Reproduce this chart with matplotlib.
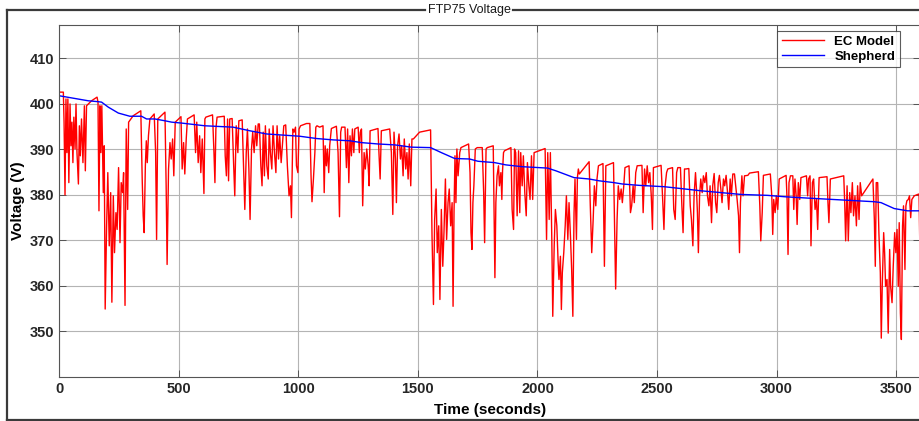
import matplotlib
matplotlib.use("Agg")
import matplotlib.pyplot as plt
from matplotlib.lines import Line2D

plt.rcParams['font.family'] = ['Liberation Sans', 'DejaVu Sans']

# EC model terminal voltage over the FTP75 cycle
ec_time = [0, 17, 20, 24, 28, 32, 36, 40, 45, 49, 53, 57, 61, 66, 70, 74, 80, 84, 88, 93,
           99, 105, 109, 114, 135, 158, 162, 166, 170, 174, 178, 184, 188, 192, 198, 203, 209,
           215, 220, 226, 231, 237, 242, 248, 254, 259, 265, 269, 275, 280, 286, 290, 309, 341,
           347, 351, 355, 360, 364, 368, 373, 379, 397, 403, 407, 412, 442, 447, 451, 457, 463,
           468, 474, 479, 485, 509, 514, 520, 525, 531, 536, 564, 570, 575, 581, 587, 592, 598,
           605, 609, 613, 641, 647, 651, 655, 660, 690, 694, 699, 704, 708, 713, 723, 729, 734,
           740, 747, 751, 765, 770, 776, 782, 787, 793, 798, 804, 809, 815, 821, 826, 832, 837,
           843, 848, 853, 858, 862, 868, 874, 878, 883, 889, 894, 900, 906, 911, 917, 922, 928,
           933, 939, 947, 954, 961, 967, 971, 977, 982, 988, 992, 998, 1003, 1009, 1034, 1048,
           1053, 1057, 1063, 1069, 1073, 1078, 1089, 1103, 1108, 1112, 1117, 1121, 1127, 1131,
           1138, 1159, 1166, 1172, 1177, 1181, 1195, 1201, 1206, 1211, 1216, 1222, 1226, 1232,
           1236, 1250, 1255, 1259, 1264, 1269, 1275, 1280, 1286, 1292, 1296, 1300, 1333, 1337,
           1342, 1347, 1382, 1389, 1395, 1400, 1406, 1410, 1415, 1421, 1427, 1432, 1438, 1443,
           1449, 1454, 1459, 1464, 1470, 1475, 1481, 1507, 1553, 1559, 1565, 1570, 1576, 1581,
           1587, 1592, 1598, 1604, 1609, 1615, 1620, 1626, 1631, 1637, 1643, 1647, 1651, 1655,
           1659, 1663, 1668, 1675, 1680, 1712, 1718, 1722, 1726, 1730, 1734, 1740, 1748, 1769,
           1775, 1779, 1785, 1790, 1815, 1819, 1822, 1826, 1831, 1837, 1841, 1847, 1851, 1854,
           1858, 1862, 1889, 1894, 1900, 1904, 1909, 1915, 1921, 1926, 1930, 1936, 1941, 1947,
           1953, 1958, 1964, 1969, 1975, 1980, 1986, 2032, 2038, 2043, 2049, 2054, 2060, 2064,
           2070, 2075, 2081, 2086, 2090, 2096, 2100, 2104, 2110, 2116, 2121, 2127, 2132, 2138,
           2143, 2148, 2153, 2157, 2163, 2167, 2171, 2175, 2216, 2221, 2227, 2233, 2238, 2244,
           2249, 2255, 2274, 2280, 2286, 2318, 2323, 2327, 2333, 2338, 2344, 2350, 2355, 2361,
           2366, 2383, 2389, 2394, 2400, 2405, 2411, 2417, 2437, 2442, 2448, 2453, 2459, 2465,
           2470, 2476, 2481, 2485, 2517, 2523, 2529, 2534, 2540, 2545, 2565, 2570, 2576, 2582,
           2587, 2598, 2604, 2609, 2615, 2621, 2633, 2639, 2644, 2650, 2655, 2661, 2665, 2669,
           2673, 2678, 2683, 2689, 2694, 2700, 2706, 2711, 2717, 2722, 2728, 2733, 2739, 2745,
           2750, 2756, 2761, 2767, 2772, 2778, 2783, 2789, 2795, 2800, 2806, 2811, 2817, 2824,
           2829, 2835, 2841, 2845, 2849, 2855, 2860, 2866, 2880, 2887, 2924, 2930, 2934, 2940,
           2945, 2974, 2980, 2984, 2988, 2994, 2999, 3005, 3011, 3040, 3044, 3048, 3052, 3058,
           3068, 3072, 3077, 3082, 3086, 3091, 3097, 3102, 3125, 3130, 3134, 3140, 3144, 3150,
           3155, 3161, 3167, 3172, 3178, 3211, 3215, 3219, 3225, 3281, 3285, 3289, 3295, 3300,
           3306, 3311, 3317, 3322, 3328, 3334, 3339, 3345, 3350, 3356, 3403, 3409, 3413, 3417,
           3423, 3428, 3434, 3438, 3442, 3448, 3452, 3456, 3462, 3467, 3473, 3477, 3483, 3488,
           3494, 3499, 3504, 3509, 3513, 3518, 3522, 3527, 3531, 3537, 3541, 3545, 3551, 3556,
           3561, 3566, 3576, 3590, 3596, 3600]
ec_volt = [402.6, 402.6, 396.0, 380.0, 401.1, 389.3, 401.1, 382.7, 400.0, 390.8, 396.0, 387.1,
           397.1, 390.1, 400.0, 389.3, 382.4, 395.2, 388.6, 396.7, 387.1, 399.6, 385.3, 399.6,
           400.7, 401.5, 400.4, 376.5, 399.6, 389.3, 399.6, 380.5, 390.8, 354.9, 373.2, 384.9,
           368.8, 380.5, 356.4, 379.8, 367.3, 376.1, 372.4, 386.0, 369.5, 382.7, 380.5, 384.9,
           355.7, 394.5, 376.8, 396.0, 397.4, 398.5, 383.1, 375.4, 371.7, 386.4, 391.9, 387.1,
           393.0, 396.7, 397.8, 389.3, 370.2, 396.7, 398.2, 382.0, 364.7, 385.7, 391.5, 387.9,
           392.3, 384.2, 396.0, 397.2, 385.7, 391.5, 384.6, 392.3, 396.7, 397.6, 389.3, 396.0,
           387.1, 393.0, 384.9, 392.3, 380.3, 396.7, 397.1, 397.6, 389.3, 382.7, 394.5, 397.1,
           397.3, 388.6, 384.2, 396.7, 383.1, 396.7, 396.8, 387.1, 379.8, 395.2, 389.3, 396.3,
           396.5, 387.5, 376.8, 389.3, 394.5, 385.7, 374.6, 390.1, 393.8, 389.3, 395.2, 390.8,
           395.6, 395.6, 386.4, 382.0, 393.8, 384.2, 395.2, 386.4, 383.5, 394.5, 389.3, 385.7,
           395.2, 389.3, 384.9, 395.2, 387.9, 393.0, 387.1, 390.8, 395.2, 395.4, 386.4, 379.8,
           382.0, 375.0, 394.5, 393.8, 394.9, 386.4, 384.9, 394.5, 395.2, 395.7, 395.7, 384.2,
           378.5, 383.5, 389.3, 394.9, 395.2, 394.9, 395.2, 380.5, 390.8, 386.4, 390.1, 384.9,
           390.8, 394.6, 395.1, 389.3, 375.2, 393.8, 394.9, 394.9, 386.0, 394.5, 382.7, 393.0,
           388.6, 394.5, 389.3, 394.5, 394.9, 389.3, 393.8, 394.5, 377.6, 389.3, 385.7, 390.1,
           386.4, 382.0, 394.1, 394.6, 389.3, 383.5, 394.1, 394.5, 389.3, 375.7, 393.8, 387.9,
           378.3, 390.8, 393.4, 387.9, 390.8, 384.2, 392.3, 385.7, 389.3, 383.5, 391.2, 382.0,
           392.3, 392.3, 393.8, 394.3, 371.0, 355.9, 374.6, 381.3, 367.3, 373.2, 357.0, 376.8,
           364.3, 371.7, 383.5, 370.2, 378.3, 381.3, 373.2, 378.3, 355.5, 376.1, 388.6, 378.3,
           390.1, 384.2, 389.3, 390.4, 391.2, 384.9, 371.7, 368.0, 378.3, 382.0, 390.1, 390.4,
           390.4, 380.5, 369.5, 390.1, 390.4, 390.8, 373.2, 361.8, 378.3, 384.2, 386.4, 382.0,
           384.9, 379.0, 385.3, 389.3, 389.7, 390.4, 376.8, 372.4, 390.1, 389.3, 375.4, 389.7,
           376.1, 389.3, 382.0, 388.6, 380.5, 375.4, 387.1, 382.0, 379.0, 388.6, 379.0, 389.3,
           390.2, 370.2, 389.3, 374.6, 389.3, 370.2, 353.3, 368.8, 376.8, 373.2, 365.8, 361.4,
           366.5, 354.8, 362.9, 367.3, 373.2, 379.8, 370.2, 378.3, 370.9, 363.6, 353.3, 376.1,
           383.5, 370.2, 383.8, 385.7, 384.6, 387.3, 377.6, 367.3, 374.6, 382.0, 377.6, 383.5,
           386.4, 386.9, 364.3, 386.4, 387.1, 370.9, 359.3, 374.6, 382.0, 379.0, 381.3, 378.3,
           382.0, 386.0, 386.4, 376.1, 377.6, 382.0, 378.3, 384.9, 386.4, 386.5, 376.1, 385.7,
           382.0, 386.4, 382.7, 384.9, 379.8, 372.4, 386.0, 386.5, 379.8, 372.4, 382.0, 384.9,
           385.7, 386.0, 376.8, 374.6, 384.9, 386.0, 386.0, 377.6, 371.7, 385.7, 385.7, 385.8,
           377.6, 374.6, 368.8, 379.8, 384.9, 381.3, 376.1, 367.3, 379.8, 383.5, 380.5, 384.2,
           382.7, 384.9, 379.8, 377.6, 382.0, 373.9, 382.0, 384.7, 378.3, 376.1, 382.7, 384.3,
           381.3, 378.3, 383.5, 382.0, 384.3, 380.5, 376.8, 383.5, 379.8, 384.6, 384.6, 382.0,
           379.0, 375.4, 367.3, 378.3, 384.2, 379.8, 384.2, 384.3, 384.8, 385.1, 377.6, 369.9,
           376.1, 384.3, 384.6, 379.8, 371.3, 379.0, 376.1, 379.8, 376.8, 383.5, 384.3, 379.0,
           366.9, 382.7, 384.2, 384.2, 376.8, 383.5, 379.8, 373.5, 382.7, 379.0, 383.8, 384.2,
           379.8, 383.5, 384.2, 368.8, 382.7, 383.5, 376.8, 379.0, 372.4, 383.8, 384.0, 378.3,
           373.9, 383.5, 384.2, 378.3, 369.9, 382.0, 369.9, 380.5, 376.1, 382.7, 375.4, 379.8,
           373.2, 382.0, 374.6, 382.7, 379.8, 383.5, 374.6, 364.3, 382.7, 382.7, 371.7, 362.9,
           348.5, 359.9, 371.7, 367.3, 359.9, 361.4, 349.6, 368.0, 359.9, 356.3, 364.3, 371.7,
           367.3, 372.4, 359.9, 373.9, 354.0, 348.2, 373.2, 377.6, 363.6, 377.6, 378.7, 379.0,
           379.8, 375.0, 379.0, 379.8, 380.1, 380.2, 366.0]

# Shepherd model voltage
sh_time = [0, 121, 163, 177, 205, 247, 295, 344, 365, 400, 442, 470, 511, 609, 727, 797, 867,
           1006, 1076, 1145, 1215, 1264, 1333, 1403, 1473, 1553, 1598, 1654, 1716, 1751, 1821,
           1868, 1937, 2042, 2077, 2153, 2216, 2258, 2320, 2355, 2425, 2531, 2685, 2852, 2963,
           3033, 3130, 3270, 3409, 3437, 3492, 3548, 3600]
sh_volt = [401.8, 400.7, 400.5, 400.4, 399.3, 398.0, 397.3, 397.3, 396.7, 396.7, 396.3, 396.0,
           395.8, 395.2, 394.9, 394.1, 393.4, 392.9, 392.4, 392.1, 391.9, 391.5, 391.2, 391.0,
           390.5, 390.4, 389.3, 388.0, 387.9, 387.4, 387.1, 386.6, 386.2, 385.9, 385.3, 383.8,
           383.5, 383.1, 382.7, 382.4, 382.1, 381.8, 380.9, 380.1, 379.9, 379.6, 379.3, 378.9,
           378.5, 378.3, 377.0, 376.5, 376.5]

x_ticks = [0, 500, 1000, 1500, 2000, 2500, 3000, 3500]
y_ticks = [350, 360, 370, 380, 390, 400, 410]

fig = plt.figure(figsize=(9.19, 4.21), dpi=100)
ax = fig.add_axes([0.0645, 0.105, 0.9366, 0.836])

ax.plot(ec_time, ec_volt, color='#ff0000', lw=1.0, label='EC Model')
ax.plot(sh_time, sh_volt, color='#0000ff', lw=1.0, label='Shepherd')

ax.set_xlim(0, 3600)
ax.set_ylim(340, 417.4)
ax.set_xticks(x_ticks)
ax.set_yticks(y_ticks)
ax.grid(True, color='#b4b4b4', lw=0.8)
ax.set_axisbelow(True)
ax.tick_params(direction='in', top=True, right=True, length=5, width=0.6,
               color='#444444', labelsize=10.5, labelcolor='#262626')
for lab in ax.get_xticklabels() + ax.get_yticklabels():
    lab.set_fontweight('bold')
for sp in ax.spines.values():
    sp.set_color('#555555')
    sp.set_linewidth(0.8)

ax.set_xlabel('Time (seconds)', fontsize=11, fontweight='bold', labelpad=5)
ax.set_ylabel('Voltage (V)', fontsize=11, fontweight='bold', labelpad=3)

leg = ax.legend(loc='upper right', bbox_to_anchor=(0.9766, 0.983), borderaxespad=0,
                fancybox=False, prop={'weight': 'bold', 'size': 9.5}, handlelength=3.2,
                labelspacing=0.2, borderpad=0.35)
leg.get_frame().set_edgecolor('#333333')
leg.get_frame().set_linewidth(0.8)

# panel border with the title set into the top edge
W, H = 919.0, 421.0
top = 1 - 9.7 / H
border = dict(color='#3a3a3a', lw=1.6, transform=fig.transFigure)
fig.add_artist(Line2D([7 / W, 425 / W], [top, top], **border))
fig.add_artist(Line2D([513 / W, 1.0], [top, top], **border))
fig.add_artist(Line2D([7 / W, 7 / W], [top, 1.5 / H], **border))
fig.add_artist(Line2D([7 / W, 1.0], [1.5 / H, 1.5 / H], **border))
fig.text(469 / W, top, 'FTP75 Voltage', ha='center', va='center', fontsize=9, color='#1a1a1a')

fig.savefig('out.png', dpi=100)
